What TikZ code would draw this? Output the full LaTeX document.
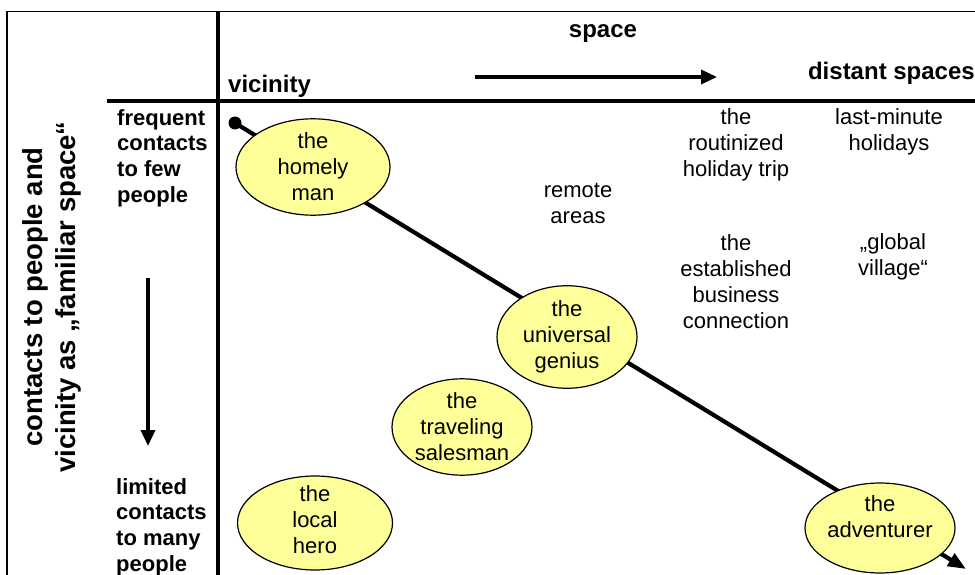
\documentclass[tikz,border=0pt]{standalone}
\usepackage{fontspec}
\setmainfont{Liberation Sans}
\usetikzlibrary{shapes.geometric,arrows.meta}
\definecolor{ellfill}{RGB}{255,255,153}
\newcommand\fsreg{\fontsize{22}{26}\selectfont}
\newcommand\fslab{\fontsize{22}{25.7}\selectfont\bfseries}
\newcommand\fshead{\fontsize{24}{28}\selectfont\bfseries}
\newcommand\fsside{\fontsize{27.5}{33}\selectfont\bfseries}
\tikzset{
  ell/.style={ellipse, draw, line width=1.2pt, fill=ellfill, inner sep=0pt, align=center, font=\fsreg},
  elltext/.style={inner sep=0pt, align=center, font=\fsreg},
  freetext/.style={inner sep=0pt, align=center, font=\fsreg, anchor=north},
  rowlab/.style={inner sep=0pt, align=left, font=\fslab, anchor=north west},
  head/.style={inner sep=0pt, font=\fshead},
  thickline/.style={line width=4pt},
  frameline/.style={line width=1.5pt},
  bigarrow/.style={line width=3.5pt, -{Triangle[length=16pt,width=14pt]}}
}
\begin{document}
\begin{tikzpicture}[x=1pt,y=-1pt]
\useasboundingbox (0,0) rectangle (975,575);
\clip (0,0) rectangle (975,575);
% frame
\coordinate (ftl) at (7,11.5);
\coordinate (ftr) at (980,11.5);
\coordinate (fbl) at (7,580);
\draw[frameline] (ftr) -- (ftl) -- (fbl);
\coordinate (vtop) at (218,11);
\coordinate (vbot) at (218,580);
\draw[thickline] (vtop) -- (vbot);
\coordinate (hl) at (107,101.5);
\coordinate (hr) at (980,101.5);
\draw[thickline] (hl) -- (hr);
% diagonal
\coordinate (lstart) at (235,123);
\coordinate (lend) at (966,569);
\draw[line width=4.2pt, -{Triangle[length=18pt,width=14pt]}] (lstart) -- (lend);
\fill (lstart) circle (6.5pt);
% ellipses
\node[ell, minimum width=154pt, minimum height=90pt] (homely) at (313,167) {the\\homely\\man};
\node[ell, minimum width=140pt, minimum height=96pt] (genius) at (567,337) {the\\universal\\genius};
\node[ell, minimum width=140pt, minimum height=93pt] (sales) at (462,427) {the\\traveling\\salesman};
\node[ell, minimum width=155pt, minimum height=94pt] (hero) at (315,523) {};
\node[elltext] (herotext) at (315,520) {the\\local\\hero};
\node[ell, minimum width=150pt, minimum height=90pt] (adv) at (880,528) {};
\node[elltext] (advtext) at (880,517) {the\\adventurer};
% free texts
\node[freetext] (routine) at (736,108) {the\\routinized\\holiday trip};
\node[freetext] (lastmin) at (889,108) {last-minute\\holidays};
\node[freetext] (remote) at (578,183) {remote\\areas};
\node[freetext] (business) at (736,234) {the\\established\\business\\connection};
\node[freetext] (village) at (893,233) {„global\\village“};
% headings
\node[head, anchor=base] (space) at (603,38) {space};
\node[head, anchor=base west] (vic) at (228,93) {vicinity};
\node[head, anchor=base east] (dist) at (975,80) {distant spaces};
\coordinate (harrs) at (475,77);
\coordinate (harre) at (717,77);
\draw[bigarrow] (harrs) -- (harre);
% row labels
\node[rowlab] (freq) at (117,109) {frequent\\contacts\\to few\\people};
\node[rowlab] (lim) at (116,478) {limited\\contacts\\to many\\people};
\coordinate (varrs) at (148,278);
\coordinate (varre) at (148,446);
\draw[bigarrow] (varrs) -- (varre);
% side title
\node[inner sep=0pt, align=center, font=\fsside, rotate=90] (side) at (52,297) {contacts to people and\\vicinity as „familiar space“};
\end{tikzpicture}
\end{document}
